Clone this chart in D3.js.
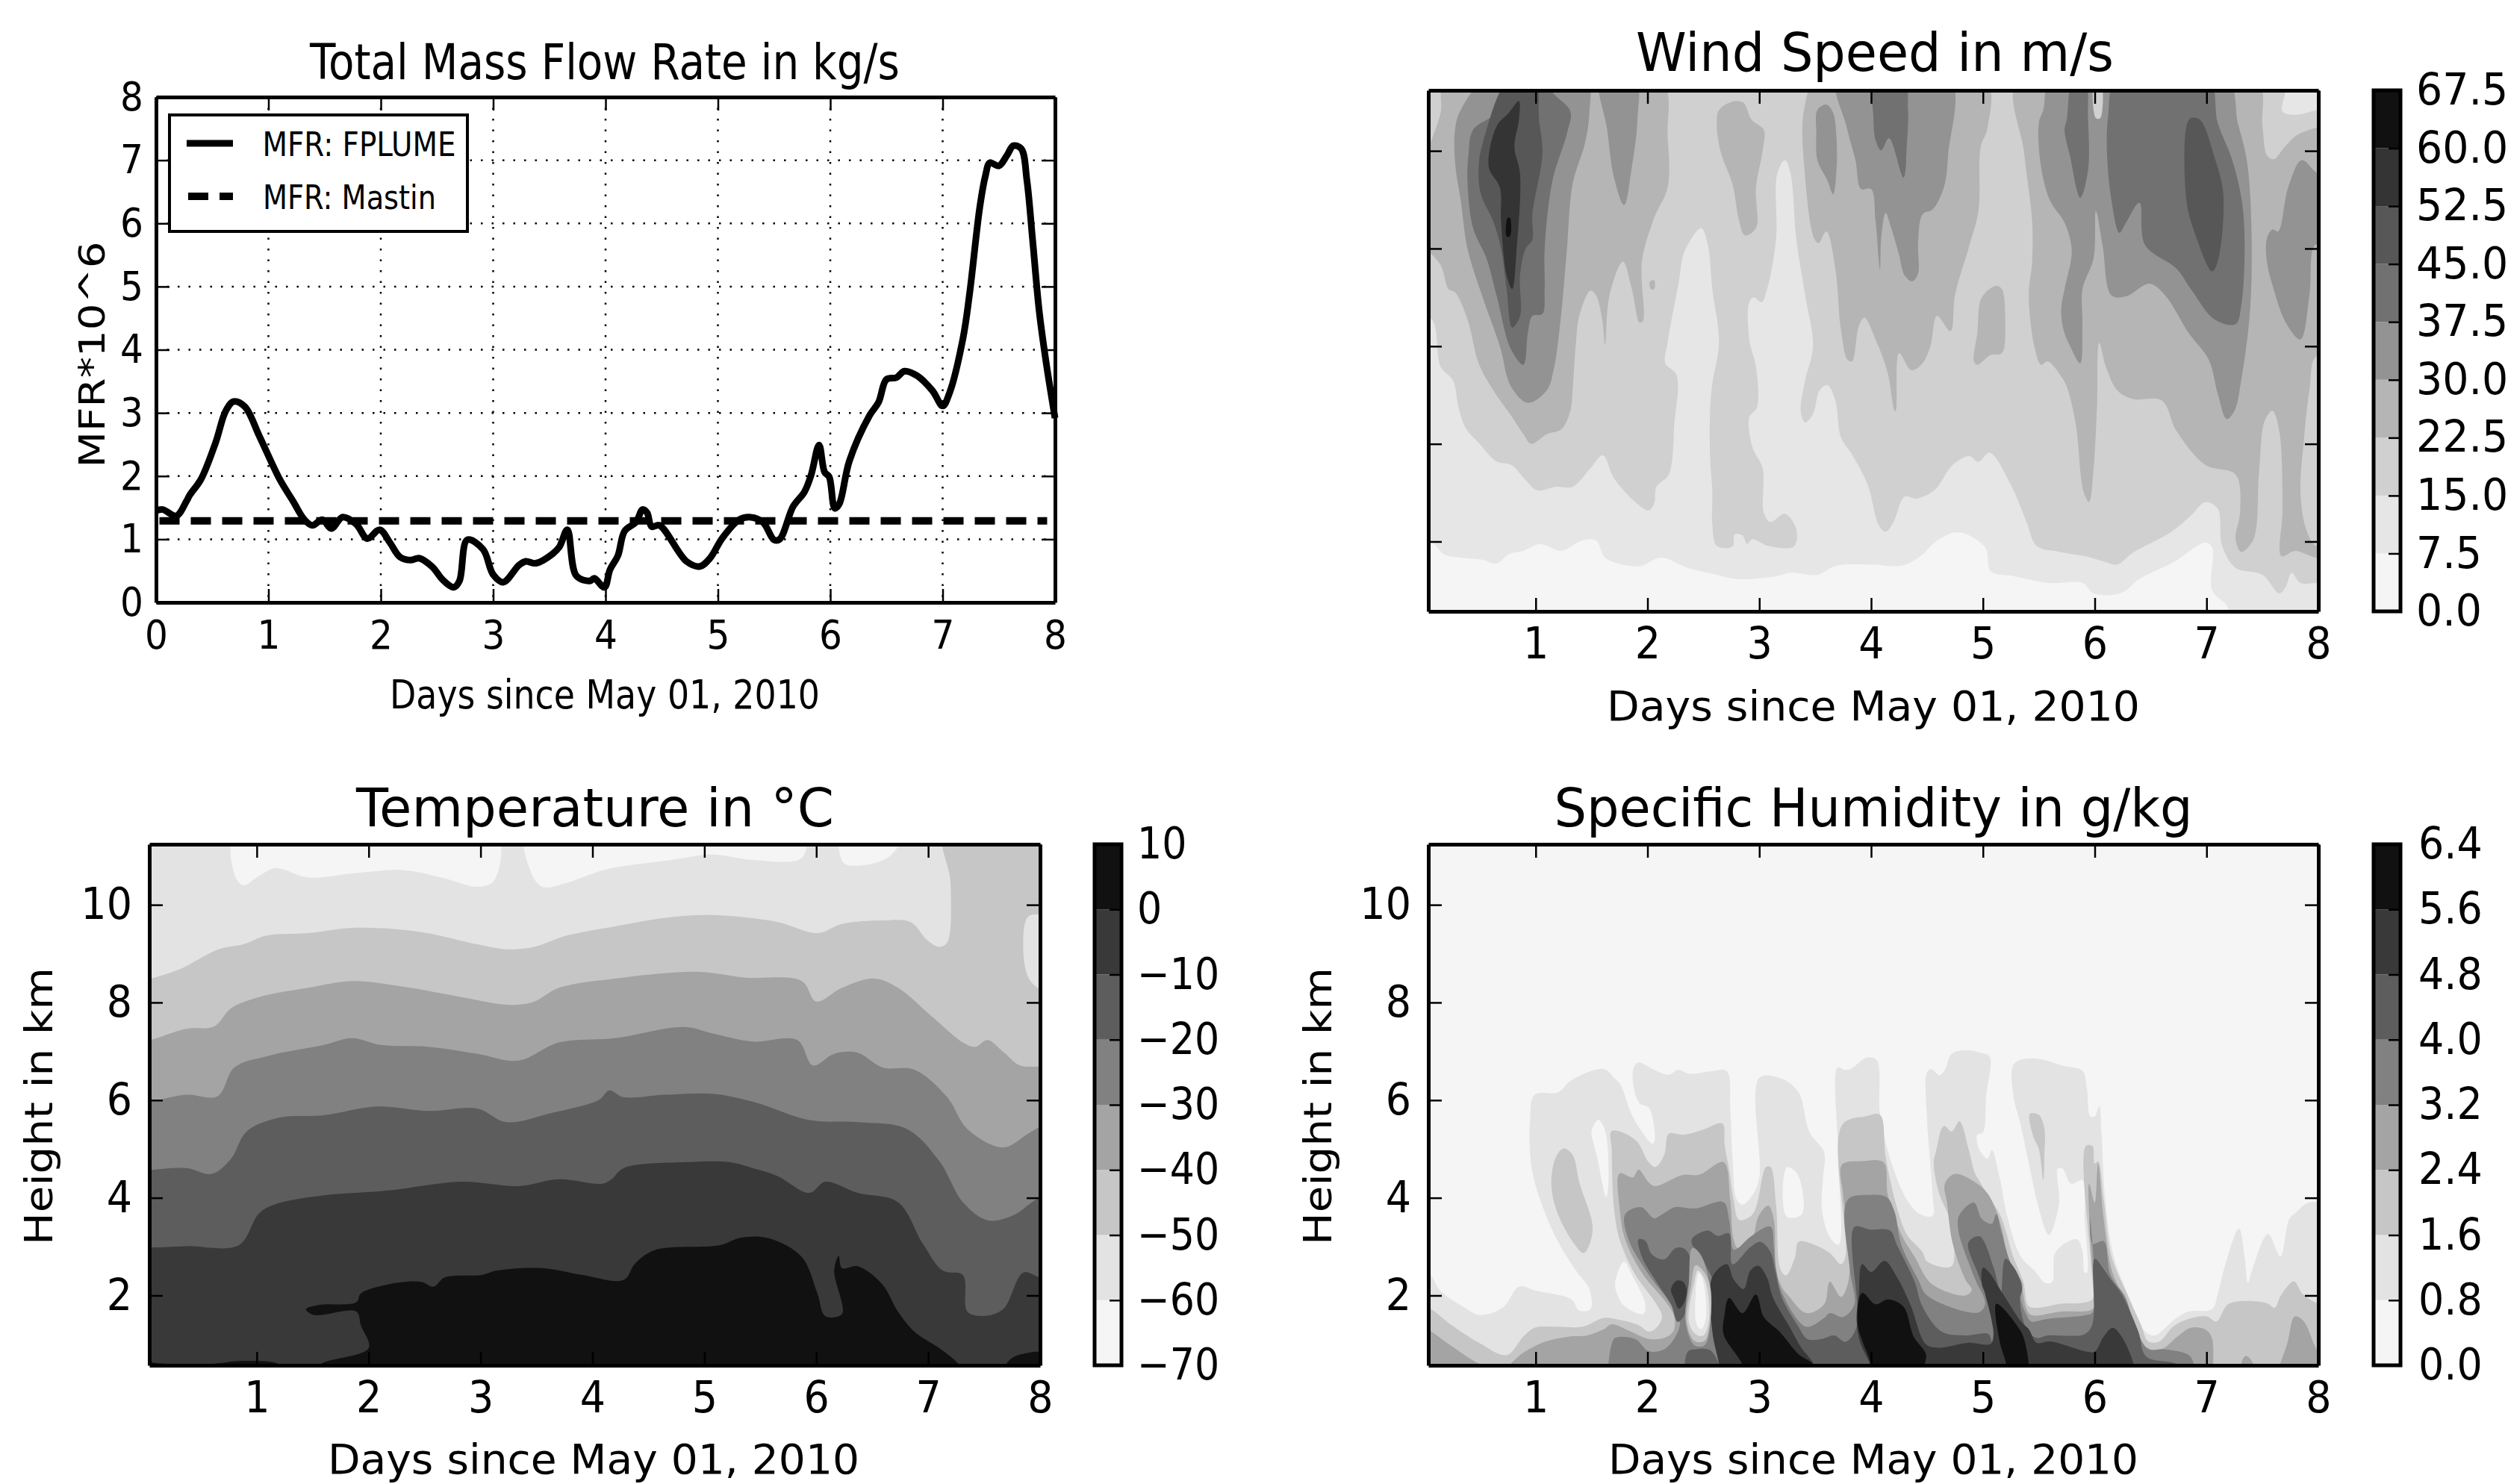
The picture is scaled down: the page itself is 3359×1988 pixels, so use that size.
<!DOCTYPE html>
<html>
<head>
<meta charset="utf-8">
<script src="https://cdn.jsdelivr.net/npm/d3@7"></script>
<style>
  html, body { margin: 0; padding: 0; background: #fff; }
  svg { display: block; }
  text { font-family: "DejaVu Sans", sans-serif; fill: #000; }
</style>
</head>
<body>
<svg id="chart" width="3359" height="1988"></svg>
<script>
// ---------- mass flow rate ----------
const mfrDays = [0,.06,.18,.27,.30,.40,.53,.62,.69,.79,.92,1.10,1.22,1.32,1.39,1.48,1.56,1.66,1.78,1.88,1.99,2.08,2.17,2.27,2.34,2.46,2.55,2.65,2.70,2.77,2.91,3.0,3.09,3.23,3.29,3.38,3.53,3.59,3.66,3.74,3.86,3.90,3.99,4.04,4.11,4.17,4.27,4.33,4.37,4.41,4.48,4.72,4.84,4.93,5.04,5.19,5.28,5.40,5.50,5.55,5.67,5.77,5.83,5.90,5.95,5.99,6.04,6.08,6.17,6.35,6.43,6.50,6.59,6.66,6.77,6.91,7.0,7.06,7.18,7.24,7.33,7.38,7.42,7.50,7.57,7.63,7.70,7.75,7.80,7.86,7.92,8.0];
const mfrFplume = [1.45,1.47,1.37,1.6,1.70,1.95,2.53,3.03,3.18,3.10,2.63,1.95,1.6,1.31,1.22,1.31,1.17,1.35,1.24,1.01,1.15,.95,.72,.67,.70,.56,.36,.24,.34,.99,.84,.44,.32,.59,.65,.62,.77,.88,1.15,.42,.34,.38,.24,.52,.74,1.13,1.27,1.47,1.42,1.2,1.22,.65,.57,.70,1.02,1.31,1.35,1.27,.99,1.0,1.52,1.75,2.02,2.49,2.06,1.99,1.49,1.56,2.24,2.96,3.17,3.53,3.56,3.66,3.59,3.35,3.11,3.31,4.17,4.89,6.25,6.75,6.96,6.91,7.07,7.23,7.18,6.68,5.75,4.60,3.81,2.92];
const mfrMastin = [[.03,1.29],[7.93,1.29]];

// ---------- colour levels ----------
const windLevels = [0,7.5,15,22.5,30,37.5,45,52.5,60,67.5];
const windGrays = ["#f5f5f5","#e6e6e6","#d0d0d0","#b5b5b5","#939393","#717171","#575757","#343434","#111111"];
const tempLevels = [-70,-60,-50,-40,-30,-20,-10,0,10];
const humLevels = [0,.8,1.6,2.4,3.2,4,4.8,5.6,6.4];
const eightGrays = ["#f5f5f5","#e3e3e3","#c6c6c6","#a4a4a4","#818181","#5d5d5d","#393939","#111111"];

// ---------- wind speed contours, [day, km] ----------
const wind7_5 = [[[-.1,2.0],[.07,1.98],[.18,1.74],[.33,1.67],[.52,1.63],[.65,1.55],[.76,1.74],[.89,1.81],[1.04,1.95],[1.23,1.81],[1.41,2.02],[1.54,2.02],[1.62,1.67],[1.78,1.53],[1.94,1.50],[2.12,1.67],[2.36,1.46],[2.62,1.32],[2.81,1.23],[3.15,1.29],[3.28,1.36],[3.52,1.32],[3.68,1.50],[3.99,1.53],[4.28,1.51],[4.44,1.70],[4.59,2.02],[4.78,2.19],[5.02,1.88],[5.07,1.39],[5.28,1.29],[5.6,1.15],[5.89,1.15],[5.99,.94],[6.23,.94],[6.41,1.25],[6.7,1.57],[6.99,1.98],[7.05,1.88],[7.05,1.0],[7.18,.7],[7.23,.5],[8.3,.4],[8.3,11.6],[-.1,11.6]]];
const wind15 = [[[.07,6.55],[.15,5.58],[.26,5.30],[.31,4.75],[.37,4.34],[.49,4.02],[.65,3.64],[.78,3.57],[.91,3.26],[1.01,3.05],[1.18,3.12],[1.33,3.12],[1.49,3.50],[1.60,3.77],[1.70,3.30],[1.89,2.81],[2.01,2.64],[2.06,2.78],[2.08,3.12],[2.19,3.37],[2.24,4.40],[2.26,5.41],[2.16,5.65],[2.18,6.07],[2.28,7.31],[2.33,7.93],[2.48,8.42],[2.54,8.07],[2.58,7.17],[2.64,6.07],[2.58,5.24],[2.56,4.69],[2.56,3.72],[2.58,3.02],[2.58,2.33],[2.62,1.91],[2.76,1.90],[2.78,2.15],[2.85,2.12],[2.89,1.95],[2.94,2.05],[3.08,1.91],[3.31,1.90],[3.33,2.26],[3.23,2.57],[3.10,2.40],[3.04,2.60],[3.03,3.50],[2.94,3.92],[2.91,4.54],[2.98,4.75],[2.97,5.58],[2.91,6.14],[2.91,6.90],[2.95,7.0],[3.02,6.90],[3.07,7.17],[3.15,8.21],[3.16,9.53],[3.23,9.81],[3.28,9.53],[3.33,8.21],[3.41,7.04],[3.48,6.0],[3.41,5.30],[3.37,4.68],[3.41,4.44],[3.48,4.61],[3.54,5.10],[3.61,5.20],[3.68,4.89],[3.73,4.13],[3.83,3.78],[3.97,3.16],[4.07,2.33],[4.13,2.20],[4.20,2.40],[4.30,2.92],[4.41,2.88],[4.57,3.06],[4.73,3.57],[4.88,3.75],[4.96,3.63],[5.06,3.82],[5.25,3.16],[5.39,2.40],[5.48,1.91],[5.68,1.79],[5.91,1.70],[6.07,1.60],[6.20,1.53],[6.34,1.77],[6.68,2.19],[6.86,2.53],[6.99,2.81],[7.10,2.67],[7.14,1.91],[7.26,1.46],[7.50,1.32],[7.65,.94],[7.71,1.08],[7.76,1.36],[7.84,1.15],[7.98,1.15],[8.2,1.15],[8.2,10.78],[7.79,10.74],[7.68,10.81],[7.68,11.5],[-.1,11.5],[-.1,6.6]]];
const wind22_5 = [
  [[.20,11.5],[.15,10.78],[.08,10.29],[-.1,9.25],[-.1,8.35],[.15,7.66],[.22,7.17],[.28,7.1],[.39,6.55],[.49,5.65],[.62,5.10],[.78,4.58],[.89,4.20],[.96,4.0],[1.10,4.2],[1.23,4.30],[1.31,4.68],[1.33,5.10],[1.36,6.07],[1.39,6.62],[1.49,7.14],[1.54,7.04],[1.60,6.48],[1.62,6.03],[1.66,7.04],[1.78,7.73],[1.86,7.17],[1.93,6.48],[1.96,6.52],[1.95,7.73],[2.06,8.63],[2.18,9.25],[2.18,10.29],[2.11,11.5]],
  [[2.02,7.32],[2.06,7.35],[2.06,7.17],[2.03,7.17]],
  [[2.64,10.84],[2.78,11.02],[2.86,10.98],[2.93,10.64],[3.04,10.43],[3.03,10.01],[2.97,9.25],[2.97,8.42],[2.87,8.27],[2.82,8.56],[2.76,9.32],[2.66,9.94],[2.62,10.5]],
  [[3.53,11.5],[3.40,10.84],[3.41,9.46],[3.49,8.21],[3.53,8.11],[3.60,8.35],[3.68,7.59],[3.73,6.34],[3.79,5.72],[3.83,5.69],[3.89,6.41],[3.94,6.58],[4.04,6.14],[4.15,5.44],[4.21,4.68],[4.22,4.68],[4.25,5.86],[4.36,5.51],[4.46,5.65],[4.53,6.0],[4.59,6.62],[4.71,6.31],[4.75,7.04],[4.88,8.07],[4.96,8.77],[4.98,10.08],[5.04,10.46],[5.02,11.5]],
  [[4.99,7.0],[5.12,7.24],[5.17,7.17],[5.20,6.48],[5.17,5.86],[5.07,5.82],[4.95,5.62],[4.92,5.69],[4.95,6.27]],
  [[5.32,11.5],[5.37,9.94],[5.44,8.56],[5.44,7.73],[5.41,7.04],[5.46,6.0],[5.52,5.62],[5.58,5.69],[5.70,5.38],[5.75,5.17],[5.83,4.41],[5.90,3.02],[5.95,2.81],[5.99,3.50],[6.02,4.75],[6.04,6.07],[6.10,5.58],[6.20,5.10],[6.34,4.92],[6.60,4.89],[6.73,4.27],[6.99,3.57],[7.26,3.37],[7.30,2.61],[7.26,2.05],[7.31,1.79],[7.42,2.05],[7.47,3.43],[7.52,4.47],[7.59,4.68],[7.65,4.27],[7.68,2.67],[7.67,1.70],[7.79,1.81],[7.98,1.67],[8.18,1.67],[8.18,1.91],[7.98,1.91],[7.89,2.26],[7.84,3.02],[7.87,4.06],[7.92,5.10],[7.98,5.79],[8.18,5.79],[8.18,10.43],[7.84,10.36],[7.71,10.11],[7.60,9.83],[7.54,9.91],[7.50,10.5],[7.44,11.5]]
];
const wind30 = [
  [[.58,11.5],[.33,10.84],[.28,10.46],[.28,9.74],[.33,8.98],[.39,8.0],[.52,7.04],[.68,6.0],[.78,5.17],[.93,4.84],[1.10,5.10],[1.16,5.51],[1.22,6.48],[1.28,8.0],[1.33,9.32],[1.44,10.15],[1.48,10.78],[1.45,11.5]],
  [[1.58,11.5],[1.64,10.43],[1.70,9.46],[1.79,8.89],[1.86,9.67],[1.91,10.64],[1.89,11.5]],
  [[3.70,11.5],[3.78,10.5],[3.86,9.81],[3.91,9.22],[4.0,9.22],[4.04,8.56],[4.08,7.56],[4.09,8.21],[4.13,8.73],[4.18,8.42],[4.25,7.87],[4.30,7.45],[4.37,7.33],[4.42,7.49],[4.42,8.14],[4.46,8.70],[4.55,8.80],[4.65,9.25],[4.69,9.94],[4.70,11.5]],
  [[3.52,10.84],[3.60,10.95],[3.66,10.78],[3.69,10.29],[3.69,9.6],[3.66,9.11],[3.61,9.39],[3.52,9.81],[3.51,10.36]],
  [[5.62,11.5],[5.54,10.84],[5.50,10.57],[5.52,9.67],[5.60,8.98],[5.73,8.53],[5.79,8.07],[5.79,7.80],[5.73,7.17],[5.70,6.76],[5.72,6.34],[5.78,6.0],[5.87,5.65],[5.89,6.48],[5.89,7.17],[5.99,7.80],[6.01,8.77],[6.07,8.07],[6.15,7.04],[6.28,7.02],[6.49,7.28],[6.63,7.04],[6.84,6.27],[7.02,5.72],[7.10,5.03],[7.18,4.51],[7.25,4.68],[7.31,5.30],[7.39,6.76],[7.40,8.56],[7.36,9.81],[7.28,10.57],[7.17,11.5]],
  [[7.85,9.81],[7.96,9.6],[8.1,9.25],[8.1,8.1],[7.97,8.07],[7.92,7.04],[7.84,6.14],[7.71,6.48],[7.60,7.17],[7.54,7.73],[7.54,8.21],[7.59,8.39],[7.64,8.35],[7.73,9.25]]
];
const wind37_5 = [
  [[.77,11.5],[.68,10.84],[.44,10.43],[.40,9.94],[.39,9.39],[.44,8.42],[.56,7.8],[.65,7.04],[.78,5.93],[.89,5.62],[.93,6.27],[.97,6.62],[1.06,6.66],[1.08,7.17],[1.08,8.0],[1.15,9.39],[1.28,10.36],[1.31,10.81],[1.15,11.2],[1.10,11.5]],
  [[4.03,11.5],[4.02,10.71],[4.04,10.22],[4.09,10.01],[4.16,10.26],[4.29,9.45],[4.32,10.15],[4.33,10.84],[4.29,11.5]],
  [[5.81,11.5],[5.75,10.64],[5.73,10.43],[5.78,9.88],[5.87,9.04],[5.94,9.6],[5.94,10.64],[5.91,11.5]],
  [[6.20,11.5],[6.12,10.71],[6.11,9.94],[6.15,8.98],[6.22,8.32],[6.27,8.49],[6.40,8.94],[6.45,8.07],[6.73,7.59],[6.86,7.17],[7.07,6.55],[7.26,6.45],[7.31,6.83],[7.34,7.87],[7.32,8.91],[7.23,9.81],[7.10,10.57],[7.01,11.5]]
];
const wind45 = [
  [[.77,11.5],[.53,10.19],[.49,9.67],[.51,9.11],[.62,8.56],[.69,8.0],[.74,7.17],[.79,6.38],[.86,6.62],[.86,7.45],[.91,8.0],[.97,8.18],[.97,8.7],[1.06,9.94],[1.03,10.64],[.99,11.5]],
  [[6.86,10.67],[6.82,10.5],[6.82,8.98],[6.89,8.35],[7.05,7.53],[7.10,7.73],[7.15,9.11],[7.07,9.88],[6.94,10.64]]
];
const wind52_5 = [[[.85,11.02],[.76,10.78],[.65,10.5],[.58,9.67],[.68,9.25],[.69,8.56],[.74,7.45],[.79,7.17],[.83,8.0],[.86,9.53],[.81,10.08],[.85,10.64]]];
const wind60 = [[[.75,8.63],[.74,8.25],[.77,8.25],[.77,8.63]]];
const windGap = [[[6.0,11.5],[6.05,11.5],[6.05,10.67],[6.01,10.67]]];

// ---------- temperature contours, [day, km] ----------
const temp70 = [
  [[.82,11.5],[.80,10.63],[.88,10.4],[1.02,10.59],[1.17,10.75],[1.46,10.56],[1.89,10.65],[2.32,10.71],[2.68,10.54],[2.97,10.37],[3.12,10.49],[3.13,11.5]],
  [[3.42,11.5],[3.44,10.73],[3.55,10.37],[3.77,10.45],[4.13,10.73],[4.71,10.92],[5.07,11.03],[5.43,10.92],[5.87,10.96],[5.88,11.5]],
  [[6.23,11.5],[6.24,10.87],[6.37,10.8],[6.66,11.0],[6.77,11.5]]
];
const temp50 = [[[-.2,8.4],[.05,8.49],[.30,8.67],[.66,9.09],[.88,9.19],[1.09,9.37],[1.46,9.42],[1.89,9.53],[2.47,9.44],[2.97,9.19],[3.23,9.09],[3.48,9.14],[3.77,9.37],[4.20,9.56],[4.71,9.75],[5.07,9.79],[5.65,9.65],[6.01,9.42],[6.23,9.61],[6.59,9.68],[6.84,9.65],[6.99,9.28],[7.10,9.14],[7.17,9.23],[7.20,10.45],[7.15,11.5],[8.3,11.5],[8.3,.2],[-.2,.2]]];
const temp60Patch = [[[8.2,9.85],[8,9.81],[7.89,9.75],[7.85,9.05],[7.9,8.49],[8,8.28],[8.2,8.2]]];
const temp40 = [[[-.2,7.1],[.05,7.23],[.37,7.46],[.62,7.51],[.77,7.88],[1.02,8.11],[1.46,8.30],[1.85,8.44],[2.32,8.32],[2.83,8.11],[3.26,7.95],[3.48,8.02],[3.70,8.30],[4.20,8.49],[4.93,8.63],[5.36,8.51],[5.87,8.44],[6.0,8.02],[6.23,8.30],[6.52,8.49],[6.73,8.30],[7.02,7.74],[7.31,7.18],[7.42,7.09],[7.53,7.23],[7.67,6.99],[7.82,6.71],[8.0,6.69],[8.3,6.7],[8.3,.2],[-.2,.2]]];
const temp30 = [[[-.2,5.9],[.05,5.97],[.37,6.11],[.65,6.08],[.80,6.67],[1.09,6.90],[1.60,7.13],[1.85,7.27],[2.11,7.13],[2.54,7.09],[2.97,6.95],[3.34,6.81],[3.70,7.18],[4.20,7.27],[4.82,7.50],[5.07,7.37],[5.43,7.20],[5.83,7.23],[5.97,6.71],[6.16,6.95],[6.37,6.97],[6.59,6.67],[6.88,6.62],[7.17,6.06],[7.35,5.41],[7.67,5.03],[7.89,5.31],[8.0,5.45],[8.3,5.6],[8.3,.2],[-.2,.2]]];
const temp20 = [[[-.2,4.5],[.05,4.57],[.37,4.61],[.60,4.49],[.77,4.80],[.91,5.36],[1.20,5.64],[1.60,5.69],[2.07,5.87],[2.54,5.78],[2.97,5.83],[3.23,5.55],[3.62,5.73],[4.06,6.01],[4.15,6.20],[4.28,6.06],[4.64,6.11],[5.07,6.13],[5.43,5.97],[5.94,5.59],[6.37,5.55],[6.81,5.41],[7.10,4.75],[7.31,3.91],[7.53,3.54],[7.75,3.63],[8.0,4.01],[8.3,4.2],[8.3,.2],[-.2,.2]]];
const temp10 = [[[-.2,2.95],[.05,2.98],[.37,3.01],[.84,3.03],[1.02,3.68],[1.17,3.87],[1.60,4.05],[2.18,4.15],[2.83,4.33],[3.34,4.24],[3.70,4.38],[4.09,4.29],[4.17,4.38],[4.28,4.61],[4.85,4.73],[5.22,4.73],[5.43,4.61],[5.65,4.45],[5.94,4.10],[6.08,4.33],[6.37,4.10],[6.73,3.91],[6.95,3.07],[7.13,2.51],[7.31,2.42],[7.35,1.67],[7.49,1.58],[7.67,1.72],[7.85,2.47],[8.0,2.37],[8.3,2.3],[8.3,.2],[-.2,.2]]];
const temp0 = [
  [[1.44,1.72],[1.56,1.81],[1.89,1.86],[1.93,2.04],[2.18,2.23],[2.47,2.28],[2.58,2.18],[2.68,2.37],[3.01,2.42],[3.15,2.51],[3.55,2.56],[3.91,2.42],[4.28,2.32],[4.38,2.65],[4.56,2.93],[5.14,3.03],[5.32,3.18],[5.58,3.17],[5.87,2.79],[6.01,2.04],[6.08,1.58],[6.23,1.62],[6.16,2.51],[6.20,2.81],[6.23,2.56],[6.37,2.60],[6.59,2.23],[6.73,1.67],[6.88,1.25],[7.10,.92],[7.28,.57],[7.31,.36],[1.56,.36],[1.56,.57],[2.0,.92],[1.93,1.39],[1.89,1.67],[1.51,1.6]],
  [[-.2,.63],[.2,.6],[.6,.6],[.88,.66],[1.2,.58],[1.2,.4],[-.2,.4]],
  [[7.7,.6],[7.82,.79],[8.3,.79],[8.3,.4],[7.7,.4]]
];

// ---------- specific humidity contours, [day, km] ----------
const hum08 = [[[-.2,2.7],[.04,2.47],[.15,2.09],[.36,1.76],[.50,1.60],[.71,1.76],[.85,2.18],[1.0,2.10],[1.32,1.92],[1.39,1.69],[1.49,1.72],[1.48,2.13],[1.37,2.48],[1.20,3.10],[1.04,3.96],[.96,4.68],[.95,5.6],[.99,6.11],[1.20,6.16],[1.32,6.41],[1.61,6.64],[1.70,6.46],[1.76,6.31],[1.85,5.75],[1.94,5.39],[2.04,5.11],[2.06,5.14],[2.06,5.44],[2.01,5.85],[1.93,5.93],[1.87,6.36],[1.88,6.69],[1.92,6.77],[2.06,6.62],[2.19,6.52],[2.27,6.62],[2.38,6.54],[2.56,6.59],[2.71,6.59],[2.74,5.85],[2.76,4.83],[2.80,3.96],[2.85,3.86],[2.94,4.06],[3.0,4.42],[3.0,6.46],[3.2,6.44],[3.35,6.16],[3.45,5.34],[3.58,4.93],[3.57,4.42],[3.56,3.76],[3.63,3.2],[3.71,3.04],[3.70,5.09],[3.70,6.67],[3.76,6.62],[3.82,6.64],[3.96,6.87],[4.05,6.82],[4.08,5.70],[4.18,4.73],[4.32,3.96],[4.44,3.66],[4.55,3.63],[4.55,4.06],[4.50,5.62],[4.50,6.57],[4.54,6.64],[4.61,6.51],[4.66,6.62],[4.72,6.95],[4.85,7.02],[4.98,6.97],[5.06,6.89],[5.03,6.10],[5.0,5.34],[4.95,5.29],[4.96,5.03],[5.04,4.8],[5.08,4.98],[5.15,4.41],[5.22,3.6],[5.34,2.79],[5.46,2.51],[5.56,2.25],[5.62,2.28],[5.65,2.89],[5.84,3.15],[5.89,2.90],[5.91,2.47],[5.93,2.47],[5.91,3.57],[5.89,4.36],[5.79,4.29],[5.71,4.60],[5.67,4.60],[5.68,3.88],[5.59,3.24],[5.50,3.78],[5.43,4.49],[5.34,5.47],[5.27,6.13],[5.28,6.75],[5.48,6.85],[5.72,6.70],[5.89,6.60],[5.93,6.24],[5.96,5.67],[6.0,5.67],[6.04,5.88],[6.06,5.36],[6.09,4.08],[6.17,2.80],[6.34,1.78],[6.43,1.31],[6.50,1.19],[6.55,1.19],[6.72,1.52],[6.84,1.67],[7.05,1.72],[7.10,2.03],[7.17,2.65],[7.29,3.37],[7.34,2.80],[7.37,2.26],[7.41,2.54],[7.55,3.26],[7.66,2.80],[7.74,3.57],[7.80,3.70],[7.89,3.88],[8.0,3.93],[8.3,4.1],[8.3,.2],[-.2,.2]]];
const hum0Holes = [
  [[1.5,5.37],[1.56,5.6],[1.62,5.39],[1.65,4.27],[1.63,4.01],[1.55,4.83],[1.52,5.09]],
  [[1.79,2.69],[1.71,2.25],[1.73,2.02],[1.79,1.79],[1.96,1.62],[1.98,1.82],[1.87,2.38]],
  [[3.25,4.63],[3.33,4.52],[3.38,4.22],[3.38,3.66],[3.25,3.61],[3.21,4.12]]
];
const hum16 = [
  [[1.25,5.01],[1.33,4.88],[1.39,4.32],[1.51,3.35],[1.43,2.87],[1.35,3.04],[1.20,3.66],[1.14,4.27],[1.18,4.83]],
  [[5.42,5.72],[5.50,5.70],[5.55,5.42],[5.55,4.90],[5.54,4.36],[5.50,5.0],[5.45,5.26]],
  [[-.2,2.0],[.04,1.76],[.25,1.39],[.5,1.02],[.74,.78],[.89,1.16],[.99,1.34],[1.18,1.36],[1.42,1.36],[1.61,1.54],[1.73,1.51],[1.92,1.39],[2.01,1.26],[2.08,1.34],[2.13,1.56],[2.08,1.82],[1.89,2.43],[1.75,3.15],[1.70,3.81],[1.68,4.98],[1.68,5.37],[1.89,5.19],[2.01,4.73],[2.07,4.63],[2.15,4.88],[2.19,5.31],[2.32,5.29],[2.49,5.39],[2.67,5.52],[2.69,5.09],[2.73,4.58],[2.77,3.96],[2.82,3.55],[2.94,3.66],[3.06,4.63],[3.10,4.63],[3.15,3.86],[3.19,2.53],[3.24,2.41],[3.32,2.79],[3.35,3.10],[3.49,3.04],[3.63,2.87],[3.73,2.64],[3.77,2.79],[3.74,5.49],[3.96,5.67],[4.08,5.70],[4.13,4.83],[4.23,3.81],[4.32,3.25],[4.46,2.89],[4.50,2.70],[4.72,2.6],[4.70,3.57],[4.61,4.08],[4.56,4.70],[4.58,4.95],[4.65,5.47],[4.72,5.36],[4.79,5.57],[4.87,5.01],[4.93,4.49],[4.97,4.34],[5.05,4.03],[5.16,3.62],[5.27,2.80],[5.36,2.29],[5.41,1.78],[5.50,1.75],[5.70,1.83],[5.89,1.85],[5.98,1.93],[5.97,2.54],[5.92,5.06],[5.98,5.06],[6.0,4.70],[6.03,4.75],[6.08,3.98],[6.15,2.80],[6.29,2.03],[6.41,1.42],[6.48,1.06],[6.58,1.06],[6.70,1.36],[6.84,1.52],[7.0,1.57],[7.09,1.47],[7.20,1.83],[7.53,1.85],[7.61,1.75],[7.66,1.98],[7.78,2.29],[7.86,2.03],[8.0,1.83],[8.3,1.7],[8.3,.2],[-.2,.2]]
];
const hum24 = [
  [[-.2,1.6],[.04,1.30],[.25,.96],[.5,.6],[.7,.5],[.89,.83],[1.08,1.05],[1.30,1.16],[1.46,1.18],[1.61,1.31],[1.68,1.41],[1.85,1.26],[2.01,1.11],[2.15,1.13],[2.23,1.26],[2.24,1.56],[2.18,1.82],[1.96,2.43],[1.80,3.15],[1.75,3.81],[1.75,4.50],[1.87,4.42],[1.92,4.58],[2.01,4.32],[2.07,4.24],[2.32,4.47],[2.46,4.47],[2.68,4.73],[2.74,3.96],[2.77,3.15],[2.81,2.97],[2.94,3.20],[2.99,3.61],[3.08,3.84],[3.13,3.55],[3.15,2.53],[3.20,2.18],[3.27,1.97],[3.42,1.64],[3.58,1.82],[3.63,2.28],[3.73,1.97],[3.79,2.23],[3.81,2.94],[3.75,4.06],[3.74,4.68],[3.92,4.75],[4.11,4.73],[4.15,4.06],[4.27,3.25],[4.39,2.79],[4.54,2.24],[4.84,2.0],[4.90,2.11],[4.84,2.34],[4.73,3.06],[4.68,3.88],[4.66,4.29],[4.75,4.49],[4.95,4.29],[5.06,4.03],[5.17,3.36],[5.22,2.80],[5.34,2.29],[5.36,2.03],[5.39,1.72],[5.43,1.60],[5.70,1.67],[5.98,1.72],[6.0,1.93],[5.97,2.80],[5.95,4.29],[6.0,3.9],[6.03,4.70],[6.08,3.57],[6.15,2.54],[6.24,2.03],[6.36,1.36],[6.43,1.0],[6.50,.90],[6.60,.90],[6.74,1.16],[6.86,1.34],[7.0,1.29],[7.05,1.11],[7.06,.57],[7.06,.2],[-.2,.2]],
  [[7.31,.5],[7.34,.75],[7.37,.75],[7.43,.5]],
  [[7.64,.45],[7.72,1.0],[7.79,1.57],[7.87,1.47],[8.0,.85],[8.2,.5],[8.2,.3],[7.64,.3]]
];
const hum32 = [[[1.65,.3],[1.65,.57],[1.68,1.0],[1.71,1.13],[1.89,1.11],[2.01,.86],[2.15,.90],[2.25,1.16],[2.29,1.46],[2.21,1.82],[2.01,2.43],[1.83,3.15],[1.80,3.66],[1.94,3.81],[2.06,3.58],[2.13,3.66],[2.25,3.81],[2.42,3.78],[2.68,3.91],[2.73,3.55],[2.77,2.94],[2.81,2.97],[2.92,3.20],[3.10,3.41],[3.13,2.99],[3.15,2.53],[3.21,2.02],[3.42,1.36],[3.58,1.54],[3.63,1.64],[3.75,1.56],[3.85,1.82],[3.81,2.53],[3.79,3.96],[3.99,4.06],[4.14,4.01],[4.21,3.71],[4.27,3.04],[4.42,2.33],[4.50,2.0],[4.96,1.65],[5.02,1.83],[4.92,2.39],[4.78,3.34],[4.79,3.65],[4.92,3.9],[4.99,3.57],[5.08,3.47],[5.12,3.67],[5.17,3.26],[5.25,2.65],[5.35,2.24],[5.34,1.93],[5.39,1.60],[5.43,1.47],[5.58,1.52],[5.93,1.60],[5.98,1.65],[6.0,2.24],[5.96,3.62],[5.98,3.06],[6.08,3.11],[6.14,2.42],[6.27,1.98],[6.37,1.31],[6.48,.90],[6.62,.90],[6.84,.78],[6.89,.57],[6.89,.3]]];
const hum40 = [
  [[1.92,3.15],[1.98,3.12],[2.04,2.84],[2.15,2.74],[2.25,2.97],[2.32,2.97],[2.38,2.79],[2.38,2.02],[2.32,1.56],[2.27,1.46],[2.21,1.82],[2.08,2.28],[1.95,2.79]],
  [[2.36,.3],[2.36,.85],[2.44,.90],[2.56,.88],[2.64,.57],[2.64,.3]],
  [[2.40,3.17],[2.54,3.33],[2.63,3.22],[2.73,3.27],[2.76,2.64],[2.92,2.99],[3.01,3.10],[3.10,2.89],[3.14,2.53],[3.20,1.97],[3.35,1.36],[3.43,1.11],[3.56,1.11],[3.67,1.18],[3.77,1.05],[3.87,1.36],[3.85,3.40],[3.99,3.35],[4.17,3.33],[4.23,3.04],[4.39,2.28],[4.46,1.77],[4.63,1.26],[4.84,1.18],[5.05,1.21],[5.08,1.06],[5.09,1.65],[4.96,2.42],[4.87,3.08],[4.97,3.21],[5.10,2.54],[5.16,2.03],[5.2,2.75],[5.30,2.49],[5.35,2.13],[5.33,1.93],[5.39,1.31],[5.48,1.13],[5.58,1.18],[5.91,1.21],[5.98,1.42],[6.0,2.75],[6.08,2.54],[6.14,2.34],[6.24,2.03],[6.39,1.26],[6.46,.75],[6.75,.57],[6.75,.3],[2.64,.3],[2.64,.57],[2.58,1.51],[2.58,2.33],[2.54,2.53],[2.46,2.89],[2.40,3.04]]
];
const hum48 = [
  [[2.26,2.30],[2.32,2.28],[2.35,2.10],[2.32,1.82],[2.28,1.73],[2.24,1.92],[2.21,2.12]],
  [[2.64,.3],[2.64,.57],[2.58,1.26],[2.58,2.38],[2.71,2.64],[2.77,2.33],[2.86,2.13],[2.92,2.51],[2.99,2.61],[3.07,2.36],[3.12,1.97],[3.27,1.36],[3.37,.95],[3.49,.57],[3.49,.3]],
  [[3.99,.3],[3.99,.57],[3.90,1.05],[3.87,1.51],[3.89,2.02],[3.92,2.64],[4.0,2.48],[4.12,2.71],[4.23,2.38],[4.35,1.82],[4.49,1.0],[4.60,.93],[4.86,1.03],[5.08,1.03],[5.02,2.03],[4.99,2.24],[5.0,2.57],[5.05,2.49],[5.18,2.03],[5.34,1.47],[5.41,1.31],[5.48,1.03],[5.6,1.06],[5.93,.85],[6.0,.85],[6.08,1.16],[6.16,1.34],[6.24,1.16],[6.35,.57],[6.35,.3]]
];
const hum56 = [
  [[2.73,1.95],[2.85,1.64],[2.97,2.02],[3.04,1.56],[3.18,1.26],[3.35,.80],[3.49,.57],[3.49,.3],[2.85,.3],[2.85,.57],[2.68,1.21],[2.69,1.61]],
  [[3.92,2.05],[4.04,1.82],[4.15,1.92],[4.29,1.77],[4.38,1.16],[4.49,.80],[4.48,.57],[4.48,.3],[4.0,.3],[4.0,.57],[3.88,1.41]],
  [[5.12,1.83],[5.34,1.26],[5.39,.90],[5.41,.57],[5.41,.3],[5.21,.3],[5.21,.57],[5.15,1.06]]
];
const humStripe = [[2.40,2.97],[2.47,2.85],[2.55,2.28],[2.56,1.41],[2.51,.98],[2.42,.98],[2.34,1.46],[2.37,2.28]];
const humRim = [[2.43,2.62],[2.50,2.50],[2.56,2.2],[2.56,1.45],[2.51,1.07],[2.42,1.07],[2.35,1.46],[2.39,2.2]];
const humGlow = [[2.45,2.51],[2.52,2.28],[2.55,1.51],[2.50,1.18],[2.43,1.21],[2.37,1.46],[2.42,2.28]];
const humCore = [[2.46,2.46],[2.5,2.28],[2.52,1.51],[2.48,1.31],[2.44,1.41],[2.43,2.02]];

// tick labels
const dayTicks = [1,2,3,4,5,6,7,8];
const kmTicks = [2,4,6,8,10];

const svg = d3.select("#chart");
const dayDomain = [.04, 8], kmDomain = [.57, 11.24];

// plain label, squeezed to the width it has in the picture
function label(txt, x, y, size, len, rot) {
    var t = svg.append("text")
        .attr("text-anchor", "middle")
        .attr("font-size", size)
        .attr("textLength", len)
        .attr("lengthAdjust", "spacingAndGlyphs")
        .text(txt);
    if (rot) t.attr("transform", "translate(" + x + "," + y + ") rotate(-90)");
    else t.attr("x", x).attr("y", y);
}

// the tick numbers are narrower than the font, the figure was stretched
function squeeze(axis, sx) {
    axis.selectAll(".tick text")
        .attr("x", function () { return (+this.getAttribute("x") || 0) / sx; })
        .attr("transform", "scale(" + sx + ",1)");
}

function frame(g, x, y, opt) {
    const w = x.range()[1] - x.range()[0], h = y.range()[0] - y.range()[1];
    const bottom = g.append("g").attr("transform", "translate(0," + h + ")")
        .call(d3.axisBottom(x).tickValues(opt.xTicks).tickSizeInner(-18).tickSizeOuter(0).tickPadding(opt.xPad));
    const left = g.append("g")
        .call(d3.axisLeft(y).tickValues(opt.yTicks).tickSizeInner(-18).tickSizeOuter(0).tickPadding(opt.yPad)
            .tickFormat(opt.yLabels ? d3.format("d") : ""));
    const top = g.append("g")
        .call(d3.axisTop(x).tickValues(opt.xTicks).tickSizeInner(-18).tickSizeOuter(0).tickFormat(""));
    const right = g.append("g").attr("transform", "translate(" + w + ",0)")
        .call(d3.axisRight(y).tickValues(opt.yTicks).tickSizeInner(-18).tickSizeOuter(0).tickFormat(""));
    [bottom, left, top, right].forEach(a => {
        a.attr("font-size", opt.fontSize).attr("font-family", "DejaVu Sans");
        a.select(".domain").attr("stroke-width", 5).attr("stroke", "#000");
        a.selectAll(".tick line").attr("stroke-width", 2.5).attr("stroke", "#000");
        squeeze(a, opt.sx);
    });
}

function contourPanel(box, layers, base, levels, grays, opt) {
    const x = d3.scaleLinear().domain(dayDomain).range([0, box.w]);
    const y = d3.scaleLinear().domain(kmDomain).range([box.h, 0]);
    const g = svg.append("g").attr("transform", "translate(" + box.x + "," + box.y + ")");
    g.append("clipPath").attr("id", opt.id).append("rect").attr("width", box.w).attr("height", box.h);
    const plot = g.append("g").attr("clip-path", "url(#" + opt.id + ")");
    plot.append("rect").attr("width", box.w).attr("height", box.h).attr("fill", grays[levels.indexOf(base)]);
    const shape = d3.line().x(d => x(d[0])).y(d => y(d[1])).curve(d3.curveCatmullRomClosed.alpha(.5));
    layers.forEach(l => {
        plot.append("g").attr("fill", grays[levels.indexOf(l[0])])
            .selectAll("path").data(l[1]).enter().append("path").attr("d", shape);
    });
    frame(g, x, y, {fontSize: 58, sx: .93, xTicks: dayTicks, yTicks: kmTicks, xPad: 22, yPad: 23, yLabels: opt.yLabels});

    // colour bar
    const cb = svg.append("g").attr("transform", "translate(" + (box.x + box.w + opt.barGap) + "," + box.y + ")");
    const cy = d3.scaleLinear().domain([levels[0], levels[levels.length - 1]]).range([box.h, 0]);
    cb.selectAll("rect").data(grays).enter().append("rect")
        .attr("width", 36)
        .attr("y", (d, i) => cy(levels[i + 1]))
        .attr("height", (d, i) => cy(levels[i]) - cy(levels[i + 1]))
        .attr("fill", d => d);
    cb.append("g").attr("transform", "translate(36,0)")
        .call(d3.axisRight(cy).tickValues(levels).tickSizeInner(-16).tickSizeOuter(0).tickPadding(opt.barPad)
            .tickFormat(opt.barFormat))
        .call(a => {
            a.attr("font-size", 58).attr("font-family", "DejaVu Sans");
            a.select(".domain").remove();
            a.selectAll(".tick line").attr("stroke-width", 2.5).attr("stroke", "#000")
                .filter(d => d == levels[0] || d == levels[levels.length - 1]).remove();
            squeeze(a, opt.barSx);
        });
    cb.append("rect").attr("width", 36).attr("height", box.h)
        .attr("fill", "none").attr("stroke", "#000").attr("stroke-width", 5);
}

// ---- panel A: mass flow rate
(function () {
    const box = {x: 209, y: 130, w: 1204, h: 677};
    const x = d3.scaleLinear().domain([0, 8]).range([0, box.w]);
    const y = d3.scaleLinear().domain([0, 8]).range([box.h, 0]);
    const g = svg.append("g").attr("transform", "translate(" + box.x + "," + box.y + ")");
    const ticks = d3.range(0, 9);

    // dotted grid
    g.selectAll(".gx").data(ticks.slice(1, 8)).enter().append("line")
        .attr("x1", d => x(d)).attr("x2", d => x(d)).attr("y1", 0).attr("y2", box.h);
    g.selectAll(".gy").data(ticks.slice(1, 8)).enter().append("line")
        .attr("x1", 0).attr("x2", box.w).attr("y1", d => y(d)).attr("y2", d => y(d));
    g.selectAll("line").attr("stroke", "#000").attr("stroke-width", 2.5).attr("stroke-dasharray", "2.5 12");

    g.append("path").datum(d3.zip(mfrDays, mfrFplume))
        .attr("fill", "none").attr("stroke", "#000").attr("stroke-width", 9).attr("stroke-linejoin", "round")
        .attr("d", d3.line().x(d => x(d[0])).y(d => y(d[1])).curve(d3.curveCatmullRom.alpha(.5)));
    g.append("path").datum(mfrMastin)
        .attr("fill", "none").attr("stroke", "#000").attr("stroke-width", 10).attr("stroke-dasharray", "27 15")
        .attr("d", d3.line().x(d => x(d[0])).y(d => y(d[1])));

    frame(g, x, y, {fontSize: 54, sx: .9, xTicks: ticks, yTicks: ticks, xPad: 24, yPad: 17, yLabels: true});

    // legend
    const lg = svg.append("g");
    lg.append("rect").attr("x", 227).attr("y", 154).attr("width", 399).attr("height", 156)
        .attr("fill", "#fff").attr("stroke", "#000").attr("stroke-width", 4);
    lg.append("line").attr("x1", 250).attr("x2", 312).attr("y1", 192).attr("y2", 192)
        .attr("stroke", "#000").attr("stroke-width", 9);
    lg.append("line").attr("x1", 252).attr("x2", 312).attr("y1", 263).attr("y2", 263)
        .attr("stroke", "#000").attr("stroke-width", 10).attr("stroke-dasharray", "27 15");
    label("MFR: FPLUME", 481, 209, 44, 259);
    label("MFR: Mastin", 468, 280, 44, 232);
})();

const oneDec = d3.format(".1f");
const minus = d => d3.format("d")(d).replace("-", "\u2212");

contourPanel({x: 1913, y: 121, w: 1192, h: 698},
    [[7.5, wind7_5], [15, wind15], [22.5, wind22_5], [30, wind30], [37.5, wind37_5], [45, wind45], [52.5, wind52_5], [60, wind60], [15, windGap]],
    0, windLevels, windGrays, {id: "clipWind", yLabels: false, barGap: 74, barPad: 21, barSx: .955, barFormat: oneDec});

contourPanel({x: 200, y: 1131, w: 1193, h: 698},
    [[-70, temp70], [-50, temp50], [-60, temp60Patch], [-40, temp40], [-30, temp30], [-20, temp20], [-10, temp10], [0, temp0]],
    -60, tempLevels, eightGrays, {id: "clipTemp", yLabels: true, barGap: 73, barPad: 21, barSx: .9, barFormat: minus});

contourPanel({x: 1913, y: 1131, w: 1192, h: 698},
    [[.8, hum08], [0, hum0Holes], [1.6, hum16], [2.4, hum24], [3.2, hum32], [4, hum40], [4.8, hum48], [5.6, hum56], [2.4, [humStripe]], [1.6, [humRim]], [.8, [humGlow]], [0, [humCore]]],
    0, humLevels, eightGrays, {id: "clipHum", yLabels: true, barGap: 74, barPad: 24, barSx: .93, barFormat: oneDec});

// titles and axis labels
label("Total Mass Flow Rate in kg/s", 810, 106, 66, 790);
label("Wind Speed in m/s", 2511, 95, 72, 640);
label("Temperature in \u00b0C", 797, 1107, 72, 640);
label("Specific Humidity in g/kg", 2509, 1107, 72, 855);
label("Days since May 01, 2010", 810, 949, 54, 576);
label("Days since May 01, 2010", 2509, 965, 56, 714);
label("Days since May 01, 2010", 795, 1974, 56, 712);
label("Days since May 01, 2010", 2509, 1974, 56, 710);
label("MFR*10^6", 140, 475, 48, 303, true);
label("Height in km", 70, 1482, 52, 372, true);
label("Height in km", 1783, 1482, 52, 372, true);
</script>
</body>
</html>
